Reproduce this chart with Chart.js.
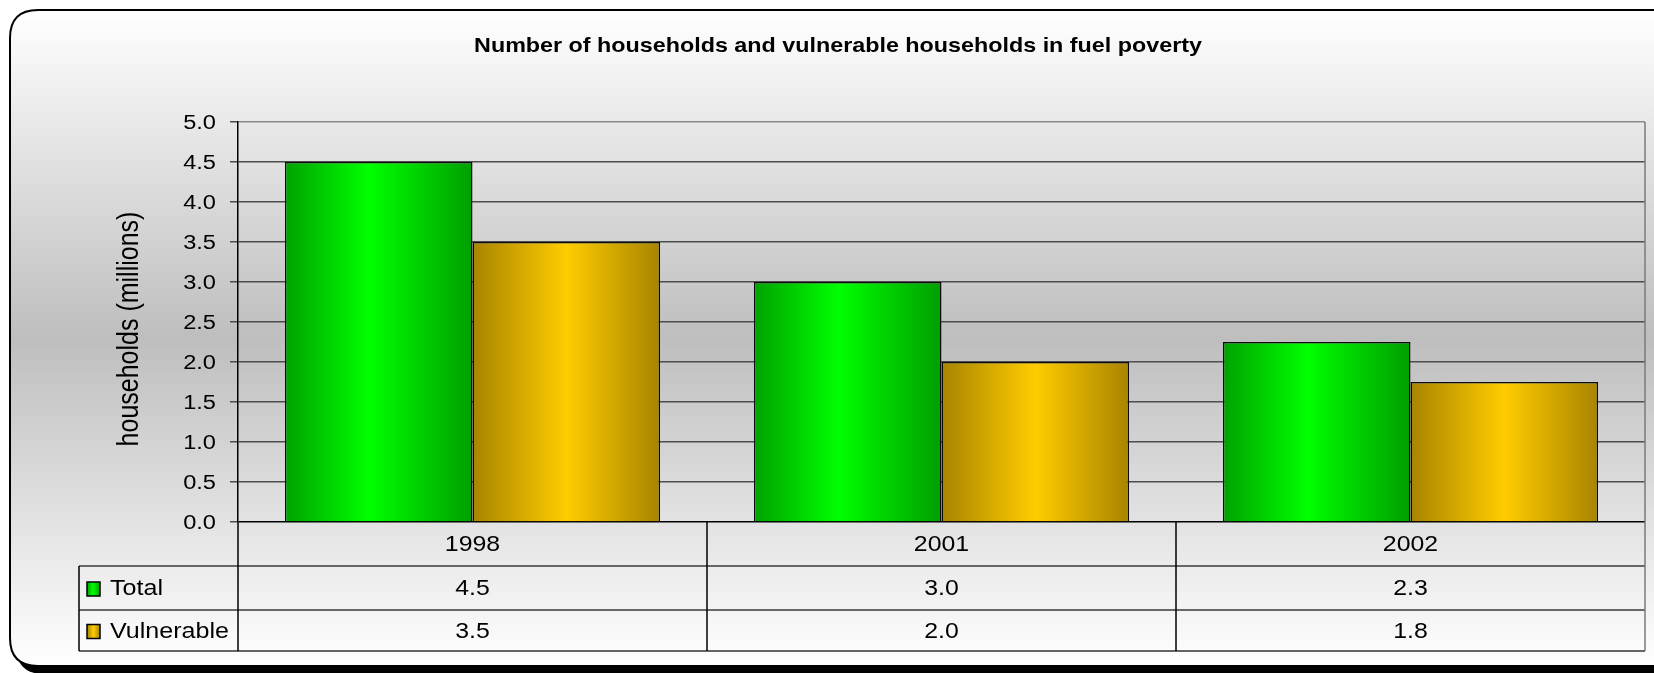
<!DOCTYPE html>
<html>
<head>
<meta charset="utf-8">
<title>Households in fuel poverty</title>
<script src="https://cdn.jsdelivr.net/npm/chart.js@4/dist/chart.umd.min.js"></script>
<style>
  html, body { margin: 0; padding: 0; background: #ffffff; overflow: hidden; }
  #wrap { width: 1654px; height: 673px; position: relative; }
</style>
</head>
<body>
<div id="wrap"><canvas id="chart" width="1654" height="673"></canvas></div>
<script>
// ---- data ----
const chartTitle = 'Number of households and vulnerable households in fuel poverty';
const axisTitle = 'households (millions)';
const categories = ['1998', '2001', '2002'];
const seriesNames = ['Total', 'Vulnerable'];
const totalValues = [4.5, 3.0, 2.25];
const vulnerableValues = [3.5, 2.0, 1.75];
const yTicks = [0.0, 0.5, 1.0, 1.5, 2.0, 2.5, 3.0, 3.5, 4.0, 4.5, 5.0];

// ---- styling ----
const FONT = "'Liberation Sans', Arial, Helvetica, sans-serif";
const seriesStops = [
  [[0, '#00a200'], [0.45, '#00ff00'], [1, '#009e00']],
  [[0, '#a88400'], [0.5, '#ffcc00'], [1, '#a88400']]
];

function hGradient(ctx, x0, x1, stops) {
  const g = ctx.createLinearGradient(x0, 0, x1, 0);
  stops.forEach(([o, c]) => g.addColorStop(o, c));
  return g;
}

// Horizontal shading for each bar, spread over that bar's own width.
function barFill(context) {
  const chart = context.chart;
  const x = chart.scales.x;
  const stops = seriesStops[context.datasetIndex];
  if (!x || context.dataIndex === undefined) return stops[1][1];
  const n = chart.data.labels.length;
  const cat = (x.right - x.left) / n;
  const barW = cat * 0.8 / 2;
  const left = x.getPixelForValue(context.dataIndex) - cat * 0.4 + context.datasetIndex * barW;
  if (!isFinite(left) || !isFinite(barW) || barW <= 0) return stops[1][1];
  return hGradient(chart.ctx, left, left + barW, stops);
}

function roundRectPath(ctx, x, y, w, h, r) {
  ctx.beginPath();
  ctx.moveTo(x + r, y);
  ctx.lineTo(x + w - r, y);
  ctx.quadraticCurveTo(x + w, y, x + w, y + r);
  ctx.lineTo(x + w, y + h - r);
  ctx.quadraticCurveTo(x + w, y + h, x + w - r, y + h);
  ctx.lineTo(x + r, y + h);
  ctx.quadraticCurveTo(x, y + h, x, y + h - r);
  ctx.lineTo(x, y + r);
  ctx.quadraticCurveTo(x, y, x + r, y);
  ctx.closePath();
}

function line(ctx, x0, y0, x1, y1, color, width) {
  ctx.strokeStyle = color;
  ctx.lineWidth = width;
  ctx.beginPath();
  ctx.moveTo(x0, y0);
  ctx.lineTo(x1, y1);
  ctx.stroke();
}

// Text with a slightly widened face, as in the rest of the layout.
function wideText(ctx, text, x, y, opts) {
  ctx.save();
  ctx.translate(x, y);
  ctx.scale(opts.sx || 1, 1);
  if (opts.rotate) ctx.rotate(opts.rotate);
  ctx.font = opts.font;
  ctx.textAlign = opts.align || 'center';
  ctx.textBaseline = 'middle';
  ctx.fillStyle = '#000';
  ctx.fillText(text, 0, 0);
  ctx.restore();
}

// Frame, background shading and heading.
const framePlugin = {
  id: 'framePlugin',
  beforeDraw(chart) {
    const ctx = chart.ctx;
    const W = chart.width;
    ctx.save();
    // drop shadow below the frame
    ctx.fillStyle = '#000';
    roundRectPath(ctx, 16, 18, W + 40, 656, 28);
    ctx.fill();
    // frame with vertical shading
    const g = ctx.createLinearGradient(0, 10, 0, 666);
    g.addColorStop(0, '#ffffff');
    g.addColorStop(0.5, '#bebebe');
    g.addColorStop(1, '#ffffff');
    roundRectPath(ctx, 10, 10, W + 40, 656, 28);
    ctx.fillStyle = g;
    ctx.fill();
    ctx.strokeStyle = '#000';
    ctx.lineWidth = 2;
    ctx.stroke();
    ctx.restore();
    // heading
    wideText(ctx, chartTitle, 838, 46, { font: 'bold 21px ' + FONT, sx: 1.11 });
  }
};

// Tick labels, axis title and the data table under the plot.
const tablePlugin = {
  id: 'tablePlugin',
  afterDraw(chart) {
    const ctx = chart.ctx;
    const area = chart.chartArea;
    const x = chart.scales.x;
    const y = chart.scales.y;
    const n = categories.length;
    const cat = (area.right - area.left) / n;
    const rows = [area.bottom, 566, 610, 651];
    const legendLeft = 79;
    ctx.save();

    // value axis labels
    yTicks.forEach(v => {
      wideText(ctx, v.toFixed(1), 216, y.getPixelForValue(v) + 1,
        { font: '20px ' + FONT, sx: 1.18, align: 'right' });
    });

    // rotated axis title
    wideText(ctx, axisTitle, 130, 329, { font: '25px ' + FONT, sx: 1.15, rotate: -Math.PI / 2 });

    // grid of the table
    line(ctx, legendLeft, rows[1], area.right, rows[1], '#3a3a3a', 1.5);
    line(ctx, legendLeft, rows[2], area.right, rows[2], '#3a3a3a', 1.5);
    line(ctx, legendLeft, rows[3], area.right, rows[3], '#333333', 1.5);
    line(ctx, legendLeft, rows[1], legendLeft, rows[3], '#000', 1.5);
    line(ctx, area.left, area.bottom, area.left, rows[3], '#000', 1.5);
    for (let i = 1; i < n; i++) {
      const bx = area.left + cat * i;
      line(ctx, bx, area.bottom, bx, rows[3], '#000', 1.5);
    }
    line(ctx, area.right, area.top, area.right, rows[3], '#7a7a7a', 1.5);

    // cell texts
    const series = [totalValues, vulnerableValues];
    const cellFont = { font: '22px ' + FONT, sx: 1.13 };
    categories.forEach((label, i) => {
      const cx = x.getPixelForValue(i);
      wideText(ctx, label, cx, (rows[0] + rows[1]) / 2 + 1, cellFont);
      series.forEach((vals, s) => {
        wideText(ctx, vals[i].toFixed(1), cx, (rows[s + 1] + rows[s + 2]) / 2 + 1, cellFont);
      });
    });

    // legend keys
    seriesNames.forEach((name, s) => {
      const cy = (rows[s + 1] + rows[s + 2]) / 2 + 1;
      const sx = 87, sw = 13, sh = 14;
      ctx.fillStyle = hGradient(ctx, sx, sx + sw, seriesStops[s]);
      ctx.fillRect(sx, cy - sh / 2, sw, sh);
      ctx.strokeStyle = '#000';
      ctx.lineWidth = 1.5;
      ctx.strokeRect(sx, cy - sh / 2, sw, sh);
      wideText(ctx, name, 110, cy, { font: '22px ' + FONT, sx: 1.14, align: 'left' });
    });
    ctx.restore();
  }
};

new Chart(document.getElementById('chart'), {
  type: 'bar',
  data: {
    labels: categories,
    datasets: [
      { label: seriesNames[0], data: totalValues, backgroundColor: barFill, borderColor: '#0b0b0b', borderWidth: 1.5 },
      { label: seriesNames[1], data: vulnerableValues, backgroundColor: barFill, borderColor: '#0b0b0b', borderWidth: 1.5 }
    ]
  },
  options: {
    responsive: false,
    devicePixelRatio: 1,
    animation: false,
    layout: { padding: { top: 122, right: 9, bottom: 151, left: 0 } },
    datasets: { bar: { categoryPercentage: 0.8, barPercentage: 1.0 } },
    plugins: {
      legend: { display: false },
      title: { display: false },
      tooltip: { enabled: false }
    },
    scales: {
      x: { display: false, offset: true },
      y: {
        min: 0,
        max: 5,
        afterBuildTicks(scale) { scale.ticks = yTicks.map(v => ({ value: v })); },
        afterFit(scale) { scale.width = 238; },
        ticks: { display: false },
        grid: {
          color: c => c.tick && c.tick.value === 0 ? '#000' : (c.tick && c.tick.value === 5 ? '#8a8a8a' : '#4d4d4d'),
          lineWidth: 1.5,
          tickLength: 8,
          tickColor: '#4d4d4d',
          drawTicks: true
        },
        border: { display: true, color: '#000', width: 1.5 }
      }
    }
  },
  plugins: [framePlugin, tablePlugin]
});
</script>
</body>
</html>
